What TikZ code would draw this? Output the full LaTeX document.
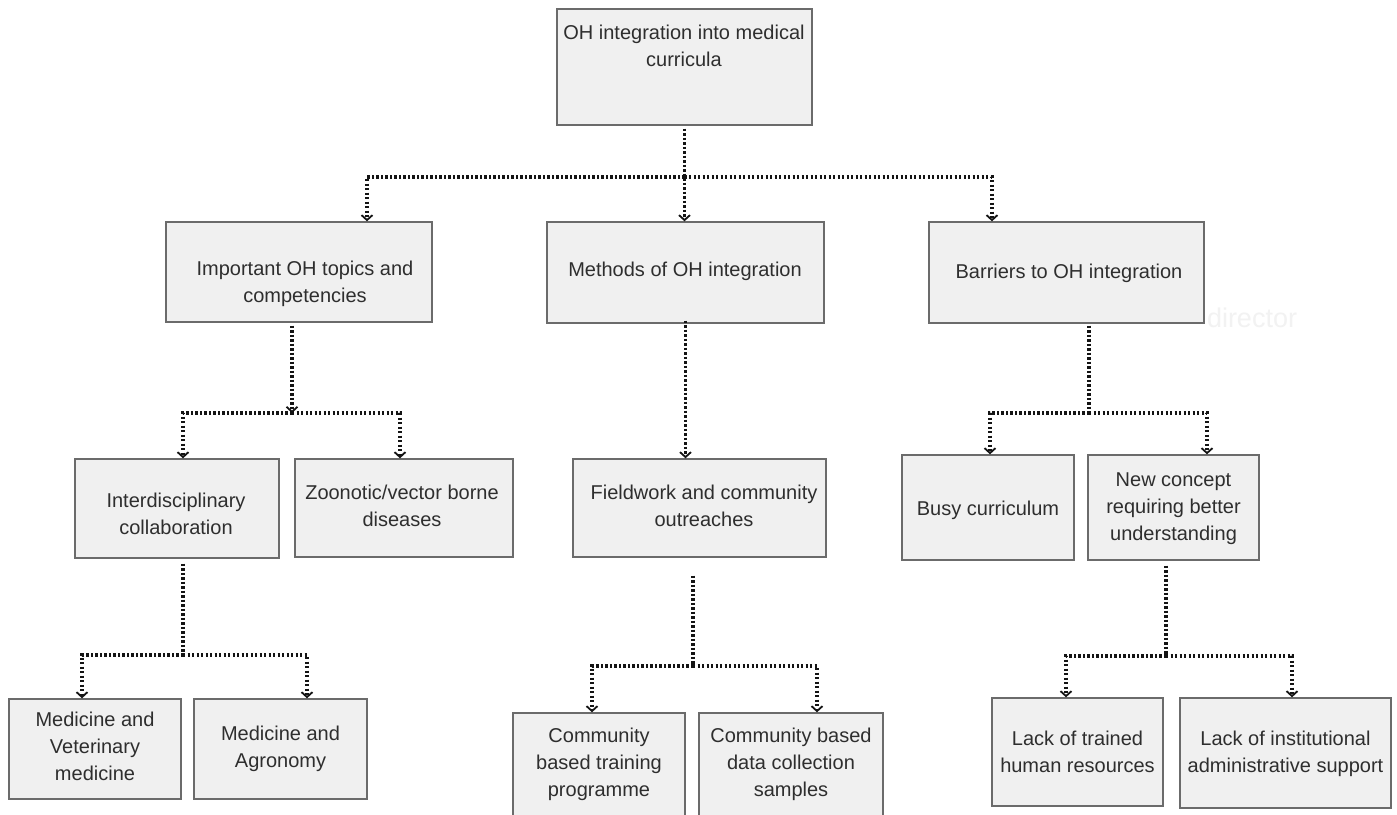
\documentclass[tikz,border=0pt]{standalone}
\usepackage{fontspec}
\setmainfont{Liberation Sans}
\usetikzlibrary{arrows.meta}
\begin{document}
\begin{tikzpicture}[x=1pt,y=-1pt,
  box/.style={draw=black!58, line width=1.4pt, fill=black!6, inner sep=0pt},
  txt/.style={align=center, text=black!82, font=\fontsize{20}{27}\selectfont, inner sep=0pt, yshift=-3.5pt,
              execute at begin node=\strut, execute at end node=\strut},
  conn/.style={line width=3.1pt, dash pattern=on 2.4pt off 2.1pt, black!92},
  tip/.style={-{Straight Barb[length=5pt,width=11pt,line width=1.8pt]}}
]
\useasboundingbox[fill=white] (0,0) rectangle (1397,814);

% ---- boxes ----
\node[box, minimum width=255pt, minimum height=116pt] (top) at (684.5,67) {};
\node[box, minimum width=266pt, minimum height=100pt] (imp) at (299,272) {};
\node[box, minimum width=277pt, minimum height=101pt] (meth) at (685.5,272.5) {};
\node[box, minimum width=275pt, minimum height=101pt] (barr) at (1066.5,272.5) {};
\node[box, minimum width=204pt, minimum height=99pt] (inter) at (177,508.5) {};
\node[box, minimum width=218pt, minimum height=98pt] (zoo) at (404,508) {};
\node[box, minimum width=253pt, minimum height=98pt] (field) at (699.5,508) {};
\node[box, minimum width=172pt, minimum height=105pt] (busy) at (988,507.5) {};
\node[box, minimum width=171pt, minimum height=105pt] (newc) at (1173.5,507.5) {};
\node[box, minimum width=172pt, minimum height=100pt] (medvet) at (95,749) {};
\node[box, minimum width=173pt, minimum height=100pt] (medagr) at (280.5,749) {};
\node[box, minimum width=172pt, minimum height=107pt] (ctrain) at (599,766.5) {};
\node[box, minimum width=184pt, minimum height=107pt] (cdata) at (791,766.5) {};
\node[box, minimum width=171pt, minimum height=108pt] (lackt) at (1077.5,752) {};
\node[box, minimum width=211pt, minimum height=110pt] (lacki) at (1285.5,753) {};

% ---- texts ----
\node[txt] (top-t) at (684,46.5) {OH integration into medical\\curricula};
\node[txt] (imp-t) at (305,282.5) {Important OH topics and\\competencies};
\node[txt] (meth-t) at (685,268) {Methods of OH integration};
\node[txt] (barr-t) at (1069,270) {Barriers to OH integration};
\node[txt] (inter-t) at (176,514.5) {Interdisciplinary\\collaboration};
\node[txt] (zoo-t) at (402,506.5) {Zoonotic/vector borne\\diseases};
\node[txt] (field-t) at (704,506.5) {Fieldwork and community\\outreaches};
\node[txt] (busy-t) at (988,507) {Busy curriculum};
\node[txt] (newc-t) at (1173.5,507) {New concept\\requiring better\\understanding};
\node[txt] (medvet-t) at (95,746.5) {Medicine and\\Veterinary\\medicine};
\node[txt] (medagr-t) at (280.5,747) {Medicine and\\Agronomy};
\node[txt] (ctrain-t) at (599,762.5) {Community\\based training\\programme};
\node[txt] (cdata-t) at (791,762.5) {Community based\\data collection\\samples};
\node[txt] (lackt-t) at (1077.5,752.5) {Lack of trained\\human resources};
\node[txt] (lacki-t) at (1285.5,752.5) {Lack of institutional\\administrative support};
\node[txt, text=black!5, font=\fontsize{27}{30}\selectfont] (wm) at (1252,318) {director};

% ---- junctions ----
\coordinate (j1) at (684.5,177);
\coordinate (j2) at (292,413);
\coordinate (j3) at (1089,413);
\coordinate (j4) at (183,655);
\coordinate (j5) at (693,666);
\coordinate (j6) at (1166,656);

% ---- connectors ----
\draw[conn, tip, shorten <=3pt] (top.south) -- (top.south |- meth.north);
\draw[conn, tip] (j1) -| ([xshift=68pt]imp.north);
\draw[conn, tip] (j1) -| ([xshift=-74.5pt]barr.north);

\draw[conn, tip, shorten <=3pt] ([xshift=-7pt]imp.south) -- (j2);
\draw[conn, tip] (j2) -| ([xshift=6pt]inter.north);
\draw[conn, tip] (j2) -| ([xshift=-4pt]zoo.north);

\draw[conn, tip, shorten <=-3pt] (meth.south) -- (meth.south |- field.north);

\draw[conn, shorten <=2pt] ([xshift=22.5pt]barr.south) -- (j3);
\draw[conn, tip] (j3) -| ([xshift=2pt]busy.north);
\draw[conn, tip] (j3) -| ([xshift=33.5pt]newc.north);

\draw[conn, shorten <=5pt] ([xshift=6pt]inter.south) -- (j4);
\draw[conn, tip] (j4) -| ([xshift=-13pt]medvet.north);
\draw[conn, tip] (j4) -| ([xshift=26.5pt]medagr.north);

\draw[conn, shorten <=18pt] ([xshift=-6.5pt]field.south) -- (j5);
\draw[conn, tip] (j5) -| ([xshift=-7pt]ctrain.north);
\draw[conn, tip] (j5) -| ([xshift=26pt]cdata.north);

\draw[conn, shorten <=5pt] ([xshift=-7.5pt]newc.south) -- (j6);
\draw[conn, tip] (j6) -| ([xshift=-11.5pt]lackt.north);
\draw[conn, tip] (j6) -| ([xshift=6.5pt]lacki.north);
\end{tikzpicture}
\end{document}
